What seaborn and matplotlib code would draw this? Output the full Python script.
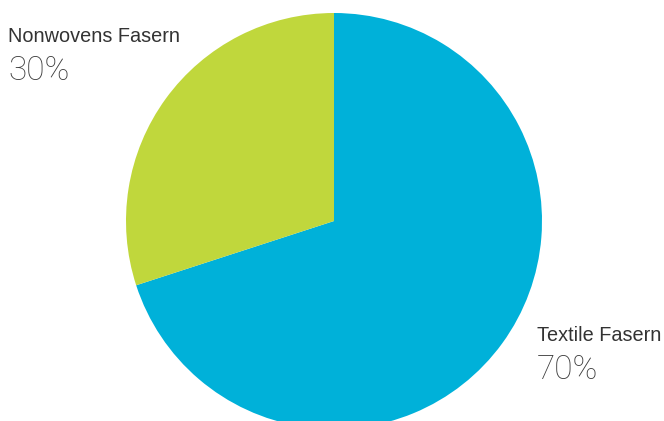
import matplotlib
matplotlib.use("Agg")
import matplotlib.pyplot as plt
import seaborn as sns

# data
categories = ["Textile Fasern", "Nonwovens Fasern"]
shares = [70, 30]
pct_labels = ["70%", "30%"]
colors = ["#00B1D9", "#C0D73C"]

sns.set_theme(style="white")
plt.rcParams["font.family"] = ["Liberation Sans", "DejaVu Sans"]

fig = plt.figure(figsize=(6.64, 4.21), dpi=100)
ax = fig.add_axes([0, 0, 1, 1])

# pie drawn in pixel-like coordinates (y up)
ax.pie(shares, colors=sns.color_palette(colors), startangle=90, counterclock=False,
       center=(334, 200), radius=208, frame=True,
       wedgeprops=dict(linewidth=0))
ax.set_xlim(0, 664)
ax.set_ylim(0, 421)
ax.set_aspect("equal")
ax.axis("off")

txt = "#333333"
# label positions (top-left anchored)
pos = {"Textile Fasern": (537, 421 - 326), "Nonwovens Fasern": (8, 421 - 27)}
for cat, pct in zip(categories, pct_labels):
    x, y = pos[cat]
    ax.text(x, y, cat, fontsize=14.3, color=txt, ha="left", va="top")
    ax.text(x, y - 28, pct, fontsize=24, color="#3d3d3d", ha="left", va="top",
            family=["Roboto", "DejaVu Sans"], fontweight="light")

fig.savefig("out.png", dpi=100)
